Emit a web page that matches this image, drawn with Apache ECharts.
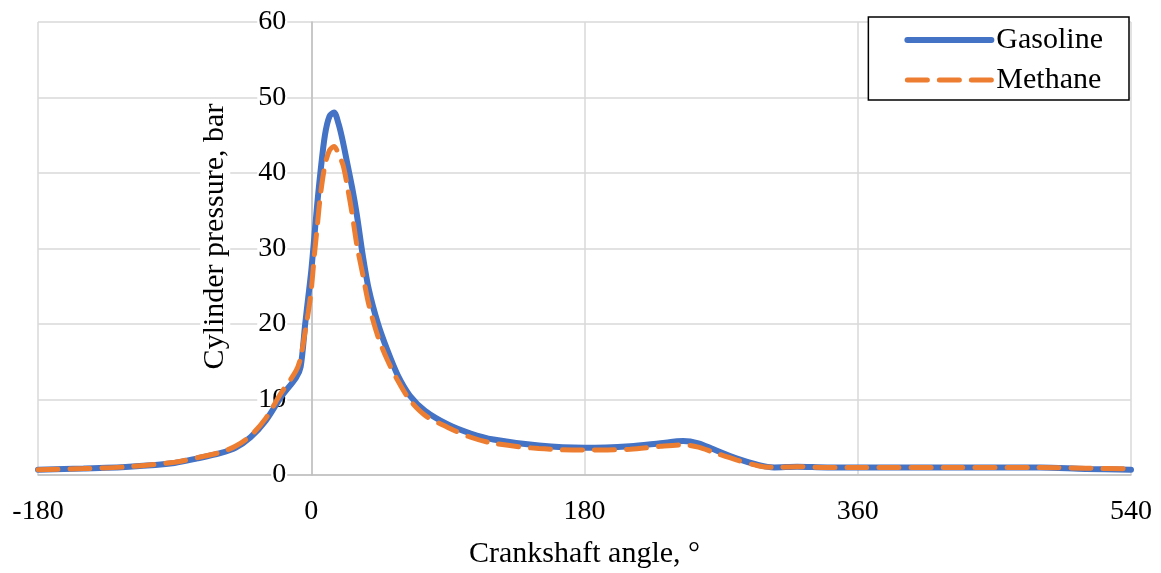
<!DOCTYPE html>
<html>
<head>
<meta charset="utf-8">
<script src="https://cdn.jsdelivr.net/npm/echarts@6/dist/echarts.min.js"></script>
<style>
  html, body { margin: 0; padding: 0; background: #fff; }
  #chart { width: 1161px; height: 573px; }
</style>
</head>
<body>
<div id="chart"></div>
<script>
// crank angle (deg) and cylinder pressure (bar)
var angles = [-180, -150, -120, -90, -75, -60, -50, -40, -30, -20, -10, -7, -4, -2, 0, 2, 4, 6, 9, 12, 15, 18, 21, 24, 27, 30, 34, 38, 44, 50, 57, 65, 75, 90, 105, 120, 150, 180, 210, 230, 245, 255, 265, 280, 295, 305, 320, 340, 360, 420, 480, 510, 540];
var gasoline = [0.7, 0.85, 1.1, 1.6, 2.2, 2.9, 3.6, 5.0, 7.2, 10.3, 12.9, 14.3, 20, 23.5, 27, 31.5, 36, 40, 45, 47.5, 48, 46.5, 44, 41, 38, 34.5, 29, 24.5, 20, 16.6, 13.2, 10.5, 8.5, 6.7, 5.5, 4.7, 3.9, 3.6, 3.8, 4.2, 4.5, 4.2, 3.4, 2.2, 1.3, 1.0, 1.1, 1.0, 1.0, 1.0, 1.0, 0.8, 0.7];
var methane = [0.7, 0.85, 1.1, 1.7, 2.3, 3.0, 3.8, 5.2, 7.5, 10.8, 13.8, 15.5, 19, 21.5, 24.5, 29, 33, 37, 41, 43, 43.5, 42.5, 41, 38, 34.5, 30.5, 26.5, 22.5, 18.3, 15.3, 12.5, 9.9, 7.9, 6.3, 5.0, 4.2, 3.5, 3.3, 3.4, 3.8, 4.0, 3.7, 3.0, 2.0, 1.2, 1.0, 1.1, 1.0, 1.0, 1.0, 1.0, 0.9, 0.8];

var font = '"Liberation Serif", "Times New Roman", serif';

function pairs(ys) {
    return angles.map(function (a, i) { return [a, ys[i]]; });
}

var myChart = echarts.init(document.getElementById('chart'));

var plotWidth = 1161 - 38 - 30;

var option = {
    animation: false,
    grid: { left: 38, right: 30, top: 22, bottom: 98, outerBoundsMode: 'none', containLabel: false },
    legend: {
        orient: 'vertical',
        right: 32,
        top: 17,
        borderColor: '#000',
        borderWidth: 1.5,
        backgroundColor: '#fff',
        padding: [8, 26, 5, 36],
        itemGap: 10,
        itemWidth: 84,
        itemHeight: 30,
        itemStyle: { opacity: 0 },
        lineStyle: { width: 'inherit' },
        textStyle: { fontFamily: font, fontSize: 30, color: '#000' },
        data: ['Gasoline', 'Methane']
    },
    xAxis: {
        type: 'value',
        min: -180,
        max: 540,
        interval: 180,
        name: 'Crankshaft angle, °',
        nameLocation: 'middle',
        nameGap: 64,
        nameTextStyle: { fontFamily: font, fontSize: 30, color: '#000' },
        axisLine: { onZero: false, lineStyle: { color: '#bfbfbf', width: 1.5 } },
        axisTick: { show: false },
        axisLabel: { fontFamily: font, fontSize: 28, color: '#000', margin: 23 },
        splitLine: { lineStyle: { color: '#d9d9d9', width: 1.5 } }
    },
    yAxis: {
        type: 'value',
        min: 0,
        max: 60,
        interval: 10,
        // sit the axis at angle 0
        offset: -plotWidth * 180 / 720,
        name: 'Cylinder pressure, bar',
        nameLocation: 'middle',
        nameGap: 81,
        nameTextStyle: { fontFamily: font, fontSize: 30, color: '#000', backgroundColor: '#fff', padding: [0, 4, 0, 28] },
        axisLine: { show: true, onZero: false, lineStyle: { color: '#bfbfbf', width: 1.5 } },
        axisTick: { show: false },
        axisLabel: { fontFamily: font, fontSize: 28, color: '#000', margin: 24, backgroundColor: '#fff', padding: [0, 1] },
        splitLine: { lineStyle: { color: '#d9d9d9', width: 1.5 } }
    },
    series: [{
        name: 'Gasoline',
        type: 'line',
        smooth: 0.3,
        showSymbol: false,
        symbol: 'none',
        lineStyle: { color: '#4472C4', width: 6, cap: 'round' },
        itemStyle: { color: '#4472C4' },
        data: pairs(gasoline)
    }, {
        name: 'Methane',
        type: 'line',
        smooth: 0.3,
        showSymbol: false,
        symbol: 'none',
        lineStyle: { color: '#ED7D31', width: 5, type: [20, 12], cap: 'round' },
        itemStyle: { color: '#ED7D31' },
        data: pairs(methane)
    }]
};

myChart.setOption(option);
</script>
</body>
</html>
